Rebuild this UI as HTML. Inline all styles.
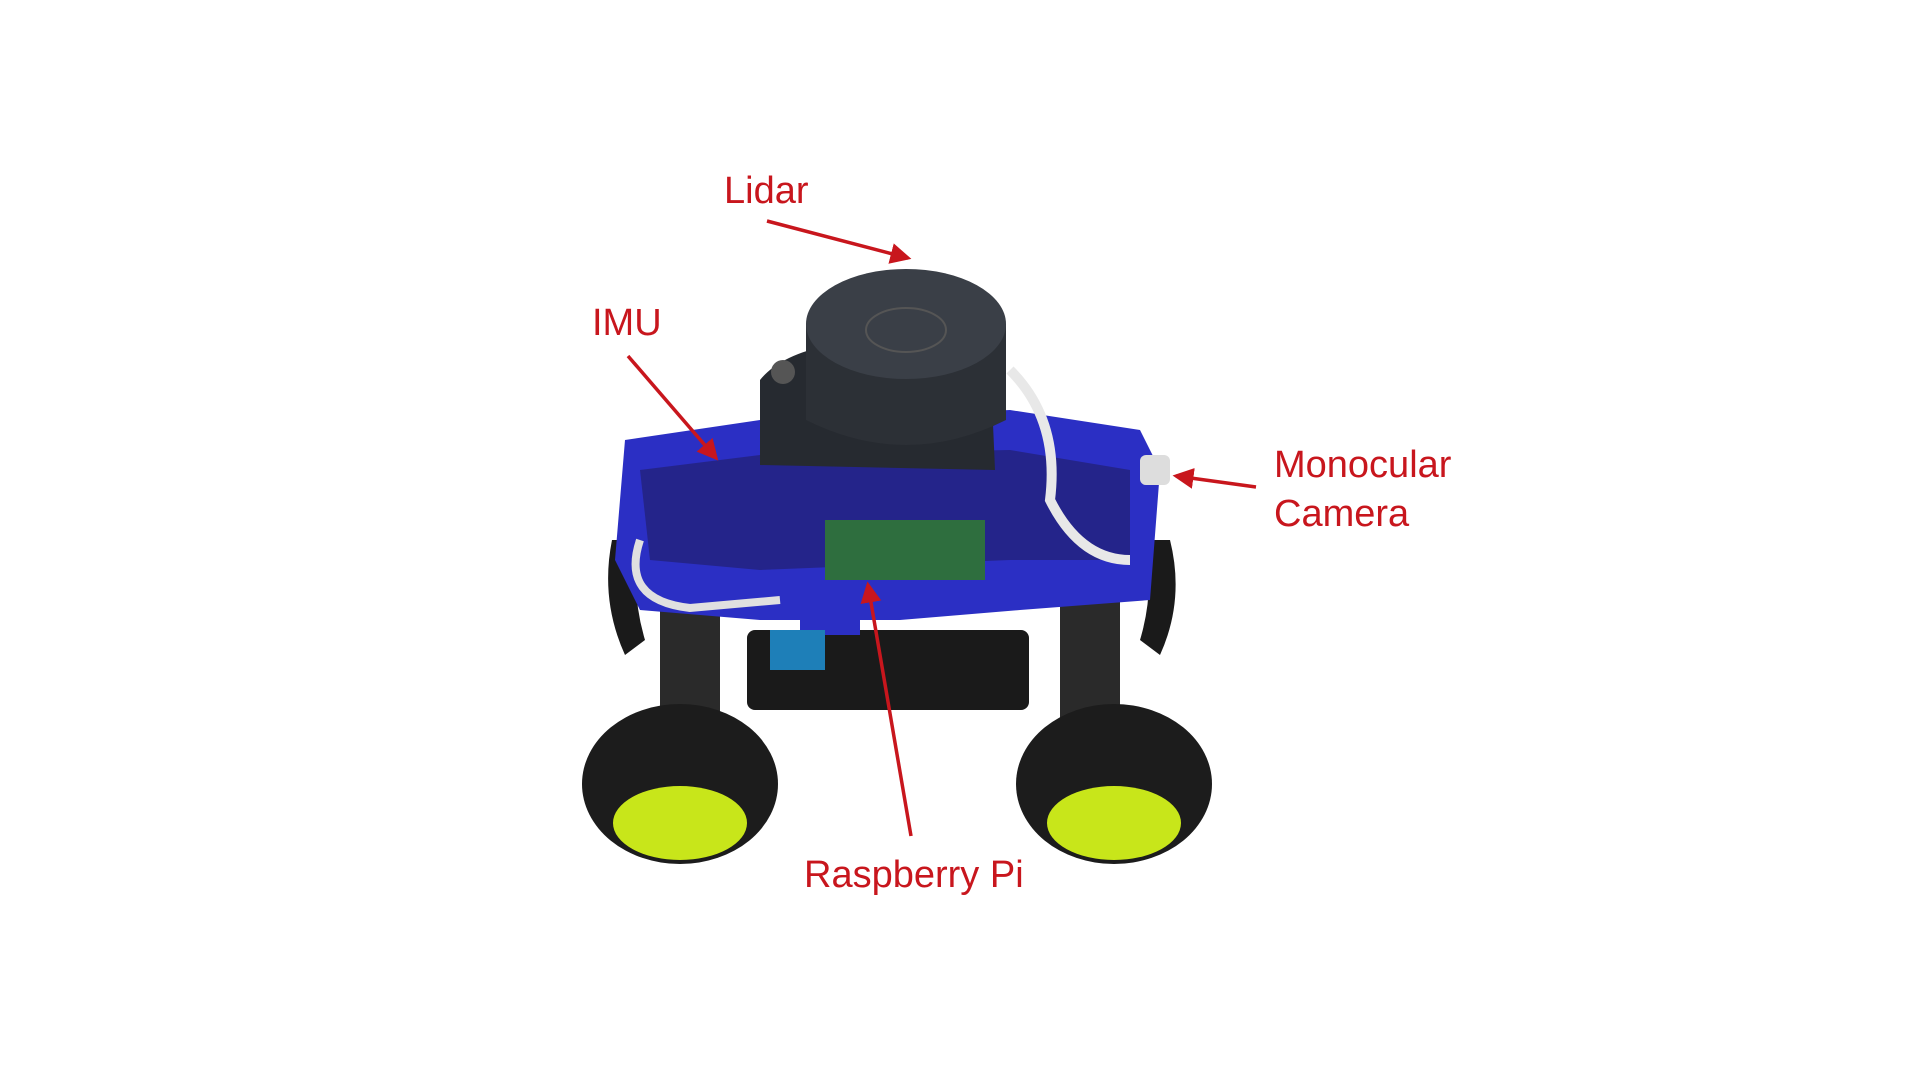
<!DOCTYPE html>
<html><head><meta charset="utf-8"><style>
html,body{margin:0;padding:0;background:#fff;width:1920px;height:1080px;overflow:hidden}
svg{display:block}
text{font-family:"Liberation Sans",sans-serif;fill:#c8161d;font-size:38px}
</style></head><body>
<svg width="1920" height="1080" viewBox="0 0 1920 1080">
<defs>
<marker id="ah" markerWidth="6" markerHeight="6" refX="5" refY="3" orient="auto" markerUnits="strokeWidth">
<path d="M0,0 L6,3 L0,6 Z" fill="#c8161d"/></marker>
</defs>
<!-- shocks -->
<rect x="660" y="600" width="60" height="130" fill="#2a2a2a"/>
<rect x="1060" y="600" width="60" height="130" fill="#2a2a2a"/>
<!-- battery box -->
<rect x="747" y="630" width="282" height="80" rx="8" fill="#1a1a1a"/>
<!-- wheels -->
<ellipse cx="680" cy="784" rx="98" ry="80" fill="#1c1c1c"/>
<ellipse cx="680" cy="823" rx="67" ry="37" fill="#c8e61a"/>
<ellipse cx="1114" cy="784" rx="98" ry="80" fill="#1c1c1c"/>
<ellipse cx="1114" cy="823" rx="67" ry="37" fill="#c8e61a"/>
<!-- side fenders -->
<path d="M612,540 Q600,600 625,655 L645,640 Q630,590 640,540Z" fill="#1a1a1a"/>
<path d="M1170,540 Q1185,600 1160,655 L1140,640 Q1155,590 1145,540Z" fill="#1a1a1a"/>
<!-- blue chassis -->
<path d="M625,440 L760,420 L1010,410 L1140,430 L1160,470 L1150,600 L1020,610 L900,620 L760,620 L640,610 L615,560 Z" fill="#2b2fc4"/>
<path d="M640,470 L760,455 L1010,450 L1130,470 L1130,560 L1010,560 L760,570 L650,560Z" fill="#24248a"/>
<!-- raspberry pi -->
<rect x="825" y="520" width="160" height="60" fill="#2e6e3e"/>
<rect x="800" y="585" width="60" height="50" fill="#2b2fc4"/>
<rect x="770" y="630" width="55" height="40" fill="#1e7fb8"/>
<!-- white cables -->
<path d="M1010,370 Q1060,420 1050,500 Q1080,560 1130,560" stroke="#e8e8e8" stroke-width="10" fill="none"/>
<path d="M640,540 Q620,600 690,608 L780,600" stroke="#e0e0e0" stroke-width="8" fill="none"/>
<!-- lidar -->
<path d="M760,380 Q780,355 830,345 L990,355 L995,470 L760,465 Z" fill="#262a30"/>
<path d="M806,324 L806,420 Q906,470 1006,420 L1006,324 Z" fill="#2c3036"/>
<ellipse cx="906" cy="324" rx="100" ry="55" fill="#3a3f47"/>
<ellipse cx="906" cy="330" rx="40" ry="22" fill="none" stroke="#555" stroke-width="2"/>
<circle cx="783" cy="372" r="12" fill="#555"/>
<!-- camera -->
<rect x="1140" y="455" width="30" height="30" rx="6" fill="#ddd"/>
<!-- arrows -->
<g stroke="#c8161d" stroke-width="3.5" fill="none">
<line x1="767" y1="221" x2="908" y2="258" marker-end="url(#ah)"/>
<line x1="628" y1="356" x2="716" y2="458" marker-end="url(#ah)"/>
<line x1="1256" y1="487" x2="1176" y2="476" marker-end="url(#ah)"/>
<line x1="911" y1="836" x2="868" y2="585" marker-end="url(#ah)"/>
</g>
<!-- labels -->
<text x="724" y="203">Lidar</text>
<text x="592" y="335">IMU</text>
<text x="1274" y="477">Monocular</text>
<text x="1274" y="526">Camera</text>
<text x="804" y="887">Raspberry Pi</text>
</svg>
</body></html>
